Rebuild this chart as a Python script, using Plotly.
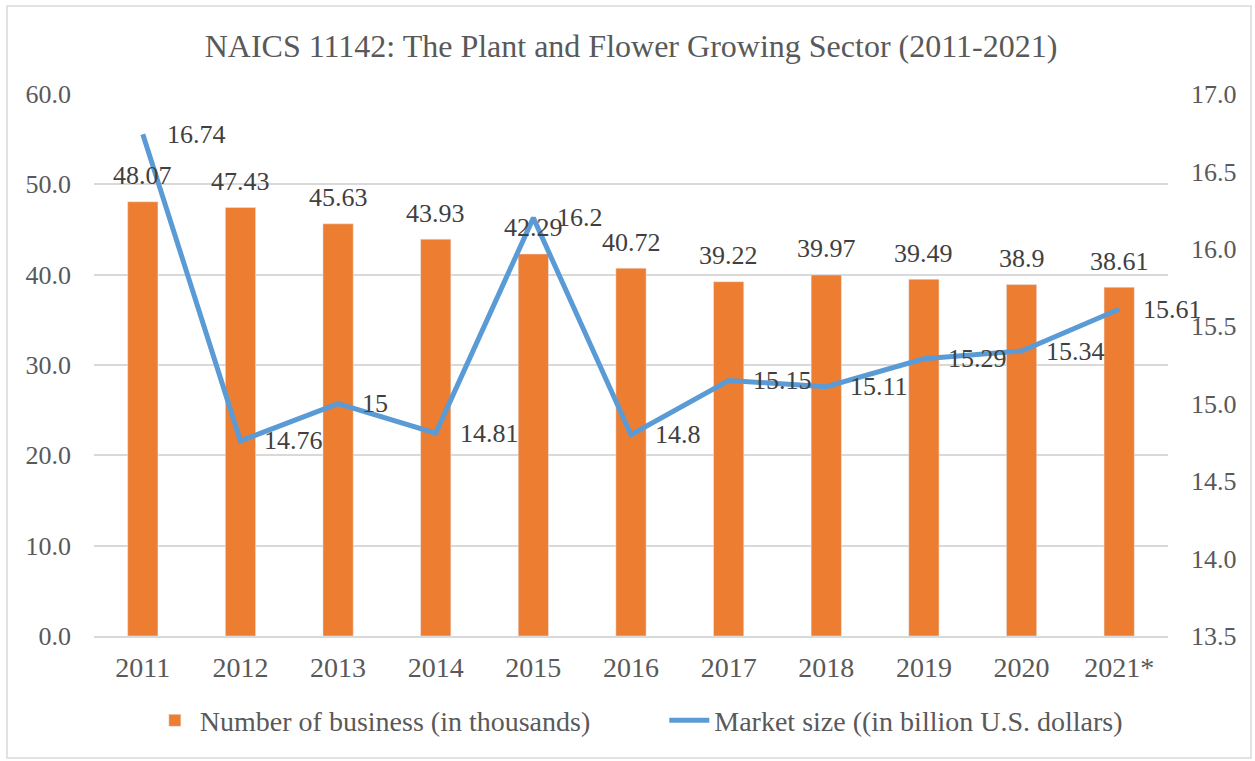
import plotly.graph_objects as go

years = ["2011", "2012", "2013", "2014", "2015", "2016", "2017", "2018", "2019", "2020", "2021*"]
businesses = [48.07, 47.43, 45.63, 43.93, 42.29, 40.72, 39.22, 39.97, 39.49, 38.9, 38.61]
market_size = [16.74, 14.76, 15.0, 14.81, 16.2, 14.8, 15.15, 15.11, 15.29, 15.34, 15.61]

FONT = "Liberation Serif, Times New Roman, serif"
TXT = "#595959"
LBL = "#404040"
ORANGE = "#ED7D31"
BLUE = "#5B9BD5"
GRID = "#D9D9D9"

fig = go.Figure()
fig.add_trace(go.Bar(
    x=years, y=businesses, name="Number of business (in thousands)",
    marker=dict(color=ORANGE), yaxis="y", legend="legend", showlegend=True,
))
fig.add_trace(go.Scatter(
    x=years, y=market_size, name="Market size ((in billion U.S. dollars)",
    mode="lines", line=dict(color=BLUE, width=5), yaxis="y2", legend="legend2",
    showlegend=True,
))

annotations = []
for i, v in enumerate(businesses):
    annotations.append(dict(
        x=i, y=v, xref="x", yref="y", text=f"{v:g}", showarrow=False,
        yanchor="middle", xanchor="center", yshift=26,
        font=dict(family=FONT, size=26, color=LBL),
    ))
for i, v in enumerate(market_size):
    annotations.append(dict(
        x=i, y=v, xref="x", yref="y2", text=f"{v:g}", showarrow=False,
        yanchor="middle", xanchor="left", xshift=22,
        font=dict(family=FONT, size=26, color=LBL),
    ))

legend_style = dict(orientation="h", xanchor="left", y=-0.11, yanchor="top",
                    bgcolor="rgba(0,0,0,0)", visible=True,
                    font=dict(family=FONT, size=28, color=TXT), itemwidth=40)

fig.update_layout(
    width=1255, height=761,
    showlegend=True,
    margin=dict(l=94, r=87, t=94, b=125, autoexpand=False),
    paper_bgcolor="white", plot_bgcolor="white",
    font=dict(family=FONT, size=26, color=TXT),
    title=dict(text="NAICS 11142: The Plant and Flower Growing Sector (2011-2021)",
               x=0.5, xref="paper", xanchor="center", y=0.94, yanchor="middle",
               font=dict(family=FONT, size=32, color=TXT)),
    bargap=0.69,
    xaxis=dict(type="category", categoryorder="array", categoryarray=years,
               range=[-0.5, 10.5], autorange=False,
               showgrid=False, showline=True, linecolor=GRID,
               linewidth=1.5, ticks="", ticklabelstandoff=6,
               tickfont=dict(size=28, color=TXT)),
    yaxis=dict(range=[0, 60], dtick=10, tickformat=".1f", showgrid=True,
               gridcolor=GRID, gridwidth=1.5, zeroline=False, showline=False,
               ticks="", ticklabelstandoff=22, tickfont=dict(size=26, color=TXT)),
    yaxis2=dict(range=[13.5, 17.0], dtick=0.5, tickformat=".1f", overlaying="y",
                side="right", showgrid=False, zeroline=False, showline=False,
                ticks="", ticklabelstandoff=22, tickfont=dict(size=26, color=TXT)),
    legend=dict(x=0.052, **legend_style),
    legend2=dict(x=0.531, **legend_style),
    annotations=annotations,
    shapes=[dict(type="rect", xref="paper", yref="paper", x0=-0.081, x1=1.0773,
                 y0=-0.2251, y1=1.1624, line=dict(color=GRID, width=1.5),
                 fillcolor="rgba(0,0,0,0)", layer="below")],
)

fig.write_html("out.html")
